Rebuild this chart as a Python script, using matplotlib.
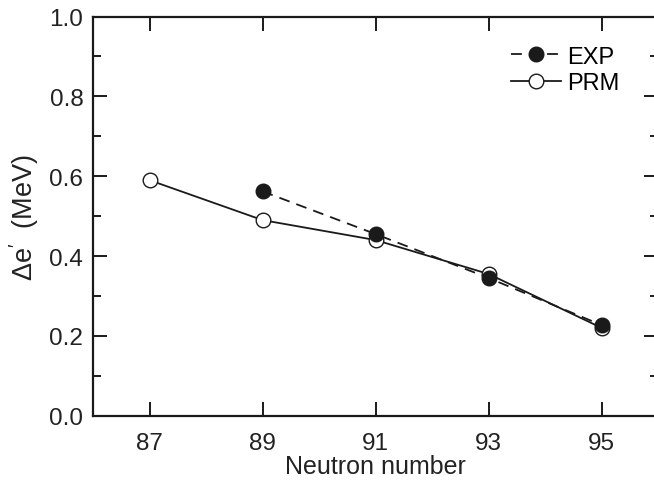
import matplotlib
matplotlib.use('Agg')
import matplotlib.pyplot as plt
from matplotlib.ticker import MultipleLocator

plt.rcParams['font.family'] = ['Liberation Sans', 'DejaVu Sans']
plt.rcParams['mathtext.fontset'] = 'custom'
plt.rcParams['mathtext.rm'] = 'Liberation Sans'
plt.rcParams['mathtext.it'] = 'Liberation Sans'

# data
n_exp = [89, 91, 93, 95]
de_exp = [0.562, 0.455, 0.345, 0.227]
n_prm = [87, 89, 91, 93, 95]
de_prm = [0.590, 0.490, 0.440, 0.355, 0.220]
xticks = [87, 89, 91, 93, 95]

fig = plt.figure(figsize=(6.54, 4.89), dpi=100)
ax = fig.add_axes([0.1422, 0.1479, 0.864, 0.8163])

prm, = ax.plot(n_prm, de_prm, '-', color='#1a1a1a', lw=1.3, marker='o', ms=10.5,
               mfc='white', mec='#1a1a1a', mew=1.0, label='PRM', zorder=3)
exp, = ax.plot(n_exp, de_exp, '--', color='#1a1a1a', lw=1.3, dashes=(6, 4),
               marker='o', ms=10.5, mfc='#1a1a1a', mec='#1a1a1a', label='EXP', zorder=4)

ax.set_xlim(86, 96)
ax.set_ylim(0.0, 1.0)
ax.set_xticks(xticks)
ax.yaxis.set_major_locator(MultipleLocator(0.2))
ax.yaxis.set_minor_locator(MultipleLocator(0.1))
ax.yaxis.set_major_formatter(plt.FormatStrFormatter('%.1f'))

ax.tick_params(which='major', direction='in', length=10, width=1.4,
               labelsize=17.5, color='#1a1a1a', labelcolor='#222222',
               top=True, right=True)
ax.tick_params(axis='y', which='major', pad=7)
ax.tick_params(axis='x', which='major', pad=12)
ax.tick_params(which='minor', direction='in', length=5.5, width=1.4,
               color='#1a1a1a', right=True)
for s in ax.spines.values():
    s.set_linewidth(1.6)
    s.set_color('#1a1a1a')

ax.set_xlabel('Neutron number', fontsize=18, color='#222222', labelpad=0)
ax.set_ylabel("\u0394e$^{\\prime}$  (MeV)", fontsize=19.5, color='#222222', labelpad=6)

ax.legend(handles=[exp, prm], loc='upper right', bbox_to_anchor=(0.948, 0.951),
          frameon=False, fontsize=17, handlelength=2.1, handletextpad=0.25,
          labelspacing=0.2, borderaxespad=0)

fig.savefig('out.png', dpi=100)
